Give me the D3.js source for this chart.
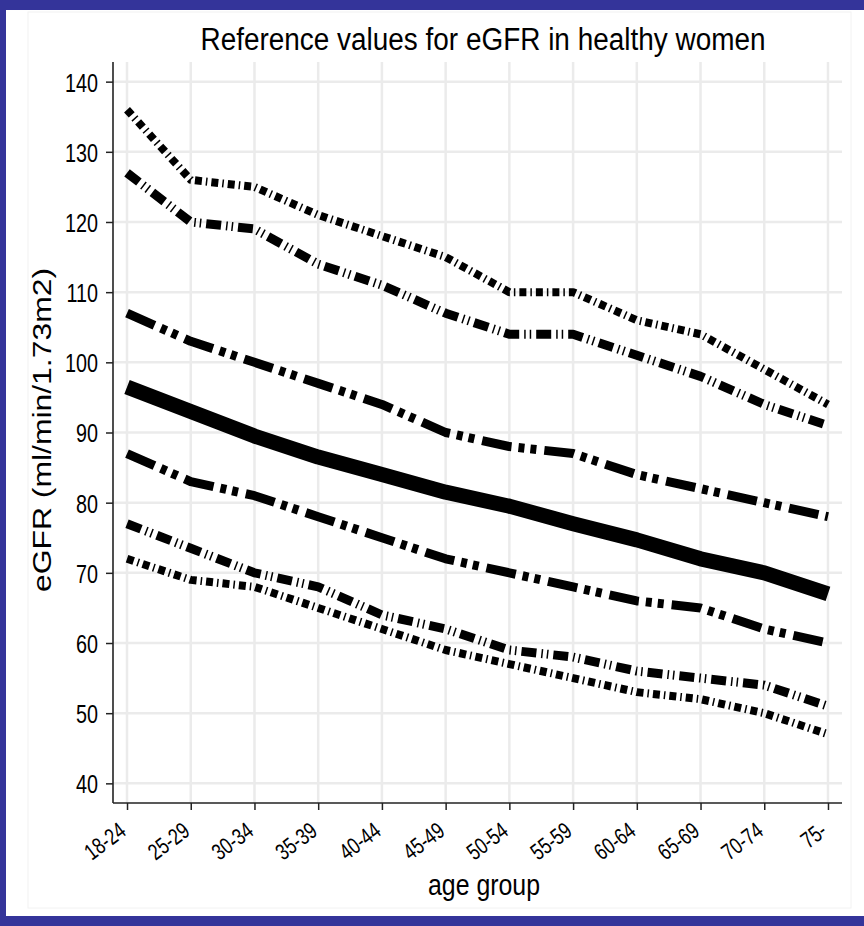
<!DOCTYPE html>
<html>
<head>
<meta charset="utf-8">
<script src="https://cdn.jsdelivr.net/npm/d3@7/dist/d3.min.js"></script>
<style>
  html, body { margin: 0; padding: 0; background: #ffffff; }
  svg { display: block; }
  text { font-family: "Liberation Sans", Arial, Helvetica, sans-serif; fill: #000; }
</style>
</head>
<body>
<svg id="chart" width="864" height="926"></svg>
<script>
// ---- data ----
const ageGroups = ["18-24","25-29","30-34","35-39","40-44","45-49","50-54","55-59","60-64","65-69","70-74","75-"];
const yTicks = [40, 50, 60, 70, 80, 90, 100, 110, 120, 130, 140];
const p97_5 = [136, 126, 125, 121, 118, 115, 110, 110, 106, 104, 99, 94];
const p95   = [127, 120, 119, 114, 111, 107, 104, 104, 101, 98, 94, 91];
const p84   = [107, 103, 100, 97, 94, 90, 88, 87, 84, 82, 80, 78];
const p50   = [96.5, 93, 89.5, 86.5, 84, 81.5, 79.5, 77, 74.7, 72, 70, 67];
const p16   = [87, 83, 81, 78, 75, 72, 70, 68, 66, 65, 62, 60];
const p5    = [77, 73.5, 70, 68, 64, 62, 59, 58, 56, 55, 54, 51];
const p2_5  = [72, 69, 68, 65, 62, 59, 57, 55, 53, 52, 50, 47];

const titleText = "Reference values for eGFR in healthy women";
const xTitle = "age group";
const yTitle = "eGFR (ml/min/1.73m2)";

// ---- styles ----
const seriesList = [
  { values: p97_5, width: 8,  dash: "7,4,1.5,4" },
  { values: p95,   width: 9,  dash: "15,5,1.5,4,1.5,5" },
  { values: p84,   width: 9,  dash: "30,7,6,6,6,8" },
  { values: p50,   width: 15, dash: null },
  { values: p16,   width: 9,  dash: "30,7,6,6,6,8" },
  { values: p5,    width: 9,  dash: "15,5,1.5,4,1.5,5" },
  { values: p2_5,  width: 8,  dash: "7,4,1.5,4" }
];

const svg = d3.select("#chart");
const W = 864, H = 926;

// frame
svg.append("rect").attr("x", 0).attr("y", 0).attr("width", W).attr("height", H).attr("fill", "#34349a");
svg.append("rect").attr("x", 6).attr("y", 10).attr("width", W - 6).attr("height", 906).attr("fill", "#ffffff");
svg.append("rect").attr("x", 28).attr("y", 12).attr("width", 823).attr("height", 896)
  .attr("fill", "none").attr("stroke", "#f2f2f2").attr("stroke-width", 1);

const pLeft = 113, pRight = 842, pTop = 62, pBottom = 803;

const x = d3.scalePoint().domain(ageGroups).range([pLeft, pRight]).padding(0.22);
const y = d3.scaleLinear().domain([37.2, 142.8]).range([pBottom, pTop]);

// grid
const grid = svg.append("g");
grid.selectAll("line.h").data(yTicks).join("line").attr("class", "h")
  .attr("x1", pLeft).attr("x2", pRight)
  .attr("y1", d => y(d)).attr("y2", d => y(d))
  .attr("stroke", "#ebebeb").attr("stroke-width", 2.5);
grid.selectAll("line.v").data(ageGroups).join("line").attr("class", "v")
  .attr("x1", d => x(d)).attr("x2", d => x(d))
  .attr("y1", pTop).attr("y2", pBottom)
  .attr("stroke", "#ebebeb").attr("stroke-width", 2.5);

// axes
const yAxis = d3.axisLeft(y).tickValues(yTicks).tickSize(7).tickPadding(8).tickSizeOuter(0);
const gy = svg.append("g").attr("transform", `translate(${pLeft},0)`).call(yAxis);
gy.select(".domain").remove();
gy.selectAll(".tick line").attr("stroke", "#222").attr("stroke-width", 1.5);
gy.selectAll(".tick text").attr("font-size", 26).attr("fill", "#000")
  .attr("font-family", "'Liberation Sans', Arial, sans-serif").attr("dy", "0.36em");
gy.selectAll(".tick text").each(function() {
  const len = this.getComputedTextLength();
  d3.select(this).attr("textLength", len * 0.76).attr("lengthAdjust", "spacingAndGlyphs");
});

const xAxis = d3.axisBottom(x).tickSize(7).tickSizeOuter(0);
const gx = svg.append("g").attr("transform", `translate(0,${pBottom})`).call(xAxis);
gx.select(".domain").remove();
gx.selectAll(".tick line").attr("stroke", "#222").attr("stroke-width", 1.5);
gx.selectAll(".tick text")
  .attr("font-size", 23).attr("fill", "#000")
  .attr("font-family", "'Liberation Sans', Arial, sans-serif")
  .attr("text-anchor", "end")
  .attr("x", 0).attr("y", 0).attr("dy", 0)
  .attr("transform", "translate(0,31) rotate(-37)");
gx.selectAll(".tick text").each(function() {
  const len = this.getComputedTextLength();
  d3.select(this).attr("textLength", len * 0.76).attr("lengthAdjust", "spacingAndGlyphs");
});

svg.append("line").attr("x1", pLeft).attr("x2", pLeft).attr("y1", pTop).attr("y2", pBottom)
  .attr("stroke", "#222").attr("stroke-width", 1.6);
svg.append("line").attr("x1", pLeft).attr("x2", pRight).attr("y1", pBottom).attr("y2", pBottom)
  .attr("stroke", "#222").attr("stroke-width", 1.6);

// lines
const lineGen = d3.line().x((d, i) => x(ageGroups[i])).y(d => y(d));
const gl = svg.append("g");
seriesList.forEach(s => {
  gl.append("path").datum(s.values)
    .attr("d", lineGen)
    .attr("fill", "none")
    .attr("stroke", "#000")
    .attr("stroke-width", s.width)
    .attr("stroke-linejoin", "round")
    .attr("stroke-linecap", "butt")
    .attr("stroke-dasharray", s.dash);
});

// titles
svg.append("text").attr("x", 483).attr("y", 50).attr("text-anchor", "middle")
  .attr("font-size", 31).attr("textLength", 565).attr("lengthAdjust", "spacingAndGlyphs")
  .text(titleText);

svg.append("text").attr("x", 484).attr("y", 895).attr("text-anchor", "middle")
  .attr("font-size", 29).attr("textLength", 112).attr("lengthAdjust", "spacingAndGlyphs")
  .text(xTitle);

svg.append("text")
  .attr("transform", "translate(51,430) scale(0.8,1) rotate(-90)")
  .attr("text-anchor", "middle").attr("font-size", 32).attr("textLength", 324)
  .attr("lengthAdjust", "spacingAndGlyphs").text(yTitle);
</script>
</body>
</html>
